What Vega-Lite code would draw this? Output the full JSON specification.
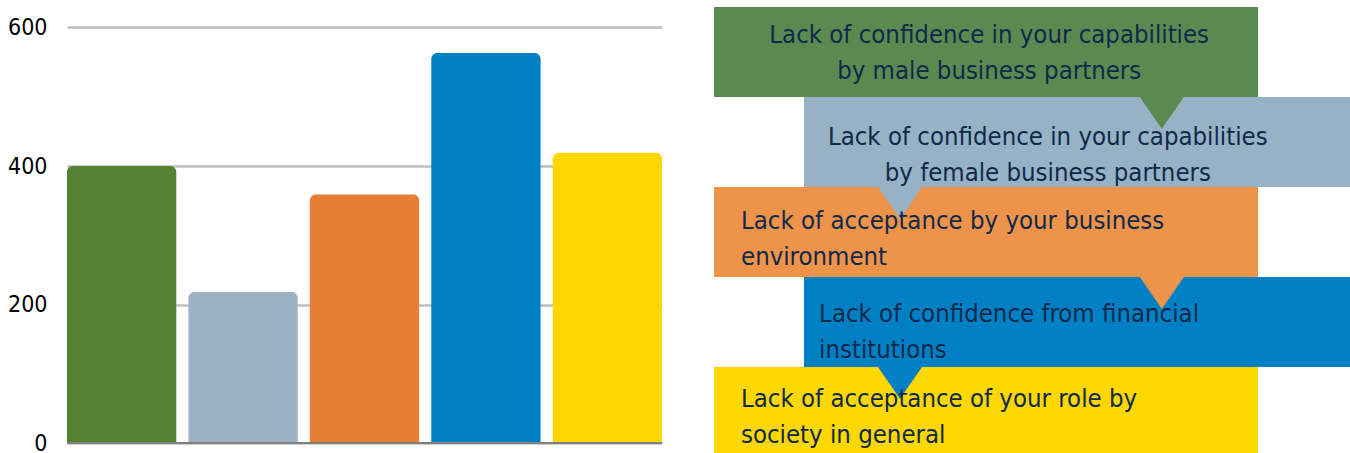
{
  "$schema": "https://vega.github.io/schema/vega-lite/v6.json",
  "padding": 0,
  "background": "white",
  "config": {"view": {"stroke": null}},
  "data": {
    "values": [
      {"order": 1, "cause": "Lack of confidence in your capabilities\nby male business partners", "value": 400},
      {"order": 2, "cause": "Lack of confidence in your capabilities\nby female business partners", "value": 218},
      {"order": 3, "cause": "Lack of acceptance by your business\nenvironment", "value": 359},
      {"order": 4, "cause": "Lack of confidence from financial\ninstitutions", "value": 563},
      {"order": 5, "cause": "Lack of acceptance of your role by\nsociety in general", "value": 419}
    ]
  },
  "resolve": {"scale": {"color": "independent"}},
  "spacing": 51,
  "hconcat": [
    {
      "width": 595,
      "height": 453,
      "layer": [
        {
          "mark": {"type": "bar", "cornerRadiusTopLeft": 6, "cornerRadiusTopRight": 6},
          "encoding": {
            "x": {"field": "cause", "type": "nominal", "sort": null, "axis": null,
                  "scale": {"paddingInner": 0.1, "paddingOuter": 0}},
            "y": {"field": "value", "type": "quantitative",
                  "scale": {"domain": [-14.4, 639.7], "nice": false, "zero": false},
                  "axis": {"values": [0, 200, 400, 600], "grid": true, "gridColor": "#bfbfbf", "gridWidth": 2.5,
                           "domain": false, "ticks": false, "labelFont": "DejaVu Sans Condensed",
                           "labelFontSize": 23, "labelColor": "#000000", "labelPadding": 20,
                           "minExtent": 67, "maxExtent": 67, "title": null}},
            "y2": {"datum": 0},
            "color": {"field": "cause", "type": "nominal", "legend": null,
                      "scale": {"domain": [
                        "Lack of confidence in your capabilities\nby male business partners",
                        "Lack of confidence in your capabilities\nby female business partners",
                        "Lack of acceptance by your business\nenvironment",
                        "Lack of confidence from financial\ninstitutions",
                        "Lack of acceptance of your role by\nsociety in general"],
                        "range": ["#548235", "#9ab2c4", "#e87d37", "#0080c4", "#ffd700"]}}
          }
        },
        {
          "mark": {"type": "rule", "color": "#7f7f7f", "strokeWidth": 2},
          "encoding": {"y": {"datum": 0}}
        }
      ]
    },
    {
      "width": 637,
      "height": 453,
      "transform": [
        {"calculate": "datum.order % 2 == 0 ? 14.13 : 0", "as": "bx0"},
        {"calculate": "datum.order % 2 == 0 ? 100 : 85.4", "as": "bx1"},
        {"calculate": "datum.order - 1", "as": "by0"},
        {"calculate": "datum.order", "as": "by1"},
        {"calculate": "datum.order % 2 == 0 ? 29.2 : 70.3", "as": "tipx"},
        {"calculate": "[43.2, 52.4, 4.24, 16.5, 4.24][datum.order - 1]", "as": "tx"},
        {"calculate": "[0.31, 1.443, 2.377, 3.41, 4.354][datum.order - 1]", "as": "ty"}
      ],
      "encoding": {
        "color": {"field": "cause", "type": "nominal", "legend": null,
                  "scale": {"domain": [
                    "Lack of confidence in your capabilities\nby male business partners",
                    "Lack of confidence in your capabilities\nby female business partners",
                    "Lack of acceptance by your business\nenvironment",
                    "Lack of confidence from financial\ninstitutions",
                    "Lack of acceptance of your role by\nsociety in general"],
                    "range": ["#5b8a51", "#97b1c5", "#ed934a", "#0080c4", "#fdd700"]}}
      },
      "layer": [
        {
          "mark": {"type": "rect"},
          "encoding": {
            "x": {"field": "bx0", "type": "quantitative", "scale": {"domain": [0, 100], "nice": false, "zero": false}, "axis": null},
            "x2": {"field": "bx1"},
            "y": {"field": "by0", "type": "quantitative", "scale": {"domain": [-0.0778, 4.956], "nice": false, "zero": false, "reverse": true}, "axis": null},
            "y2": {"field": "by1"}
          }
        },
        {
          "transform": [{"filter": "datum.order < 5"}],
          "mark": {"type": "point", "filled": true, "opacity": 1, "strokeWidth": 0, "size": 1936, "shape": "M-1,0L1,0L0,1.45Z"},
          "encoding": {
            "x": {"field": "tipx", "type": "quantitative"},
            "y": {"field": "by1", "type": "quantitative"}
          }
        },
        {
          "transform": [{"filter": "datum.order <= 2"}],
          "mark": {"type": "text", "align": "center", "baseline": "middle", "lineBreak": "\n", "lineHeight": 36,
                   "font": "DejaVu Sans Condensed", "fontSize": 25.5},
          "encoding": {
            "x": {"field": "tx", "type": "quantitative"},
            "y": {"field": "ty", "type": "quantitative"},
            "text": {"field": "cause"},
            "color": {"value": "#10294a"}
          }
        },
        {
          "transform": [{"filter": "datum.order >= 3"}],
          "mark": {"type": "text", "align": "left", "baseline": "middle", "lineBreak": "\n", "lineHeight": 36,
                   "font": "DejaVu Sans Condensed", "fontSize": 25.5},
          "encoding": {
            "x": {"field": "tx", "type": "quantitative"},
            "y": {"field": "ty", "type": "quantitative"},
            "text": {"field": "cause"},
            "color": {"value": "#10294a"}
          }
        }
      ]
    }
  ]
}
